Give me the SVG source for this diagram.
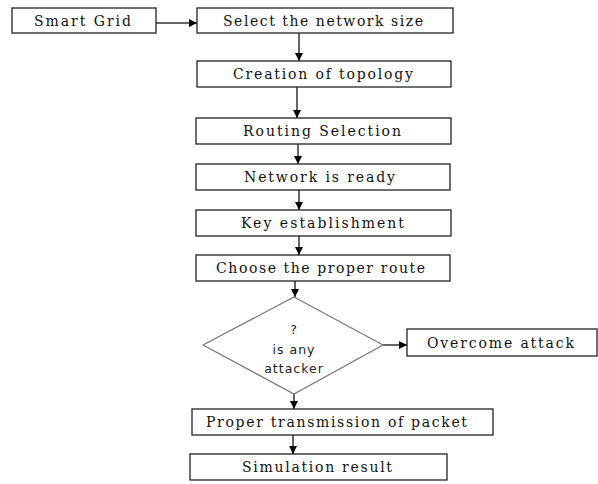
<svg xmlns="http://www.w3.org/2000/svg" width="598" height="484" viewBox="0 0 598 484">
<style>
.box{fill:#fff;stroke:#222;stroke-width:1.3}
.dia{fill:#fff;stroke:#777;stroke-width:1.2}
.t{font-family:"DejaVu Serif","Liberation Serif",serif;font-size:14px;fill:#111}
.s{font-family:"DejaVu Sans",Verdana,sans-serif;font-size:12.5px;fill:#222;letter-spacing:1px;text-anchor:middle}
.c{stroke:#333;stroke-width:1.5;fill:none;marker-end:url(#ah)}
</style>
<defs>
<marker id="ah" markerUnits="userSpaceOnUse" markerWidth="8" markerHeight="8" refX="8" refY="4" orient="auto">
<path d="M0,0 L8,4 L0,8 z" fill="#000"/>
</marker>
</defs>
<rect width="598" height="484" fill="#fff"/>
<g id="connectors">
<line class="c" x1="156" y1="23" x2="197" y2="23"/>
<line class="c" x1="299" y1="33" x2="299" y2="61"/>
<line class="c" x1="297" y1="87" x2="297" y2="118"/>
<line class="c" x1="298" y1="144" x2="298" y2="164"/>
<line class="c" x1="299" y1="190" x2="299" y2="210"/>
<line class="c" x1="299" y1="236" x2="299" y2="255"/>
<line class="c" x1="295" y1="281" x2="295" y2="297"/>
<line class="c" x1="383" y1="345" x2="407" y2="345"/>
<line class="c" x1="294" y1="394" x2="294" y2="409"/>
<line class="c" x1="293" y1="435" x2="293" y2="454"/>
</g>
<g id="smart-grid"><rect class="box" x="12" y="8" width="144" height="25"/><text class="t" x="34" y="25.5" textLength="97" lengthAdjust="spacing">Smart Grid</text></g>
<g id="select-size"><rect class="box" x="197" y="8" width="256" height="25"/><text class="t" x="223" y="25.5" textLength="200" lengthAdjust="spacing">Select the network size</text></g>
<g id="creation-topology"><rect class="box" x="197" y="61" width="254" height="26"/><text class="t" x="233" y="79" textLength="180" lengthAdjust="spacing">Creation of topology</text></g>
<g id="routing-selection"><rect class="box" x="196" y="118" width="255" height="26"/><text class="t" x="243" y="136" textLength="158" lengthAdjust="spacing">Routing Selection</text></g>
<g id="network-ready"><rect class="box" x="196" y="164" width="254" height="26"/><text class="t" x="244" y="182" textLength="151" lengthAdjust="spacing">Network is ready</text></g>
<g id="key-establishment"><rect class="box" x="196" y="210" width="255" height="26"/><text class="t" x="241" y="228" textLength="163" lengthAdjust="spacing">Key establishment</text></g>
<g id="choose-route"><rect class="box" x="196" y="255" width="254" height="26"/><text class="t" x="216" y="273" textLength="209" lengthAdjust="spacing">Choose the proper route</text></g>
<g id="attacker-decision"><polygon class="dia" points="294,297 383,345 294,394 203,345"/>
<text class="s" x="294" y="334">?</text>
<text class="s" x="294" y="354">is any</text>
<text class="s" x="294" y="373">attacker</text></g>
<g id="overcome-attack"><rect class="box" x="407" y="329" width="190" height="27"/><text class="t" x="427" y="347.5" textLength="147" lengthAdjust="spacing">Overcome attack</text></g>
<g id="proper-transmission"><rect class="box" x="192" y="409" width="301" height="26"/><text class="t" x="206" y="427" textLength="261" lengthAdjust="spacing">Proper transmission of packet</text></g>
<g id="simulation-result"><rect class="box" x="190" y="454" width="257" height="26"/><text class="t" x="242" y="472" textLength="150" lengthAdjust="spacing">Simulation result</text></g>
</svg>
